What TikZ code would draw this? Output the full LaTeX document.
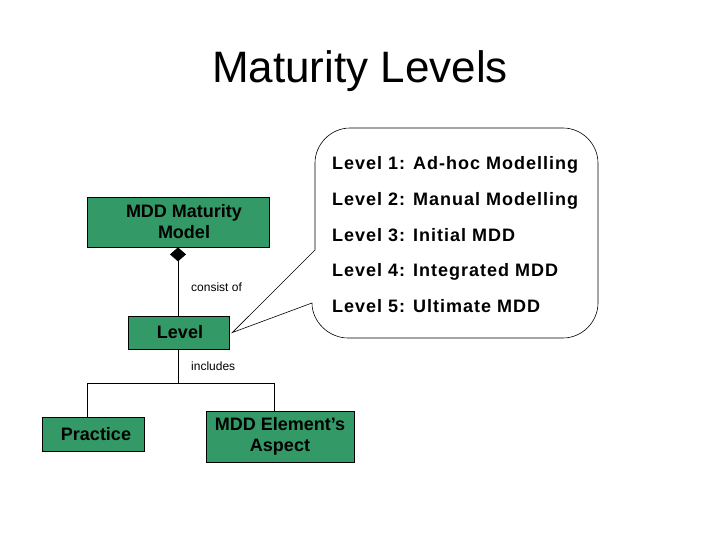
\documentclass[tikz,border=0pt]{standalone}
\usepackage{fontspec}
\setmainfont{Liberation Sans}
\usetikzlibrary{arrows.meta}
\definecolor{boxgreen}{HTML}{339966}
\begin{document}
\begin{tikzpicture}[x=1pt,y=-1pt,
  greenbox/.style={draw=black,line width=0.8pt,fill=boxgreen,inner sep=0pt},
  boxtext/.style={font=\fontsize{18pt}{21pt}\selectfont\bfseries,align=center},
  smalltext/.style={font=\fontsize{12pt}{14pt}\selectfont,anchor=base west,inner sep=0pt},
  leveltext/.style={font=\fontsize{18pt}{21pt}\selectfont\bfseries\addfontfeature{LetterSpace=5.5},anchor=base west,inner sep=0pt},
  conn/.style={draw=black,line width=0.8pt}]
\useasboundingbox[fill=white] (0,0) rectangle (720,540);

\node[anchor=base,font=\fontsize{44pt}{50pt}\selectfont] (title) at (360,83) {Maturity Levels};

% boxes
\node[greenbox,minimum width=182pt,minimum height=50pt,
  label={[boxtext,xshift=6pt]center:MDD Maturity\\Model}] (mdd) at (178,222) {};
\node[greenbox,minimum width=101pt,minimum height=33pt,
  label={[boxtext,xshift=1.5pt]center:Level}] (lvl) at (178.5,332.5) {};
\node[greenbox,minimum width=102pt,minimum height=34pt,
  label={[boxtext,xshift=3pt]center:Practice}] (prac) at (93,434) {};
\node[greenbox,minimum width=148pt,minimum height=51pt,
  label={[boxtext]center:MDD Element’s\\Aspect}] (elem) at (280,436.5) {};

% composition connector
\draw[conn,{Diamond[width=16pt,length=14pt,fill=black]}-] (mdd.south) -- (mdd.south |- lvl.north);
\node[smalltext] (consist) at (191,291) {consist of};

% includes connector
\coordinate (jn) at (178,383);
\coordinate (bl) at (87,383);
\coordinate (br) at (274,383);
\draw[conn] (lvl.south -| jn) -- (jn);
\draw[conn] (bl |- prac.north) -- (bl) -- (br) -- (br |- elem.north);
\node[smalltext] (incl) at (191,370) {includes};

% callout
\coordinate (tip) at ([xshift=3pt]lvl.east);
\draw[line width=0.6pt] (315,250) -- (315,163)
  .. controls (315,144) and (331,128) .. (350,128) -- (563,128)
  .. controls (582,128) and (598,144) .. (598,163) -- (598,303)
  .. controls (598,322) and (582,338) .. (563,338) -- (348,338)
  .. controls (329,338) and (312,322) .. (312,303) -- (tip) -- cycle;

\node[leveltext] (l1) at (332,170) {Level 1: Ad-hoc Modelling};
\node[leveltext] (l2) at (332,205.5) {Level 2: Manual Modelling};
\node[leveltext] (l3) at (332,241) {Level 3: Initial MDD};
\node[leveltext] (l4) at (332,276.5) {Level 4: Integrated MDD};
\node[leveltext] (l5) at (332,312) {Level 5: Ultimate MDD};
\end{tikzpicture}
\end{document}
